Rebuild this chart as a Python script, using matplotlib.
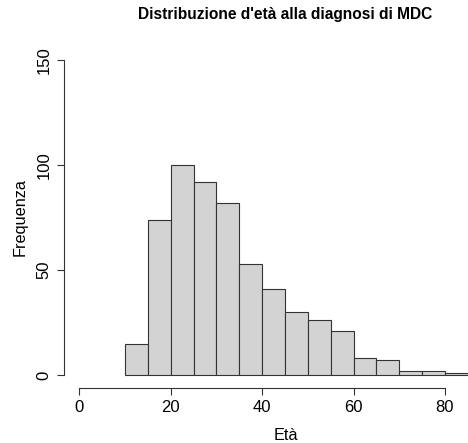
import matplotlib
matplotlib.use("Agg")
import matplotlib.pyplot as plt

# classi d'età (ampiezza 5 anni) e frequenze
bin_edges = [10, 15, 20, 25, 30, 35, 40, 45, 50, 55, 60, 65, 70, 75, 80, 85]
counts = [15, 74, 100, 92, 82, 53, 41, 30, 26, 21, 8, 7, 2, 2, 1]
x_ticks = [0, 20, 40, 60, 80]
y_ticks = [0, 50, 100, 150]

plt.rcParams['font.family'] = ['Liberation Sans', 'DejaVu Sans']

W, H = 468, 443
fig = plt.figure(figsize=(W / 100, H / 100), dpi=100)

# regione del grafico in pixel (come in R, con estensione del 4%)
left_px, right_px = 64, 468
top_px, bottom_px = 47.4, 387.6
ax = fig.add_axes([left_px / W, 1 - bottom_px / H,
                   (right_px - left_px) / W, (bottom_px - top_px) / H])

widths = [b - a for a, b in zip(bin_edges[:-1], bin_edges[1:])]
ax.bar(bin_edges[:-1], counts, width=widths, align='edge',
       color='#d3d3d3', edgecolor='#333333', linewidth=0.8, clip_on=False)

ax.set_xlim(-3.35, 85.05)
ax.set_ylim(-6, 156)

for s in ax.spines.values():
    s.set_visible(False)

# assi stile R: linea solo fra primo e ultimo tick
ax.plot([x_ticks[0], x_ticks[-1]], [-6, -6], color='#333333', lw=0.8, clip_on=False)
ax.plot([-3.35, -3.35], [y_ticks[0], y_ticks[-1]], color='#333333', lw=0.8, clip_on=False)

ax.set_xticks(x_ticks)
ax.set_yticks(y_ticks)
ax.tick_params(axis='both', direction='out', length=5, width=0.8, color='#333333',
               labelsize=12, pad=4)
ax.set_yticklabels([str(v) for v in y_ticks], rotation=90, va='center')

fig.text(20 / W, 1 - 217 / H, 'Frequenza', rotation=90, ha='center', va='center', fontsize=11.7)
fig.text(286 / W, 1 - 436 / H, 'Età', ha='center', va='center', fontsize=11.7)
fig.text(285 / W, 1 - 15 / H, "Distribuzione d'età alla diagnosi di MDC",
         ha='center', va='center', fontsize=11.2, fontweight='bold')

fig.savefig('out.png', dpi=100)
